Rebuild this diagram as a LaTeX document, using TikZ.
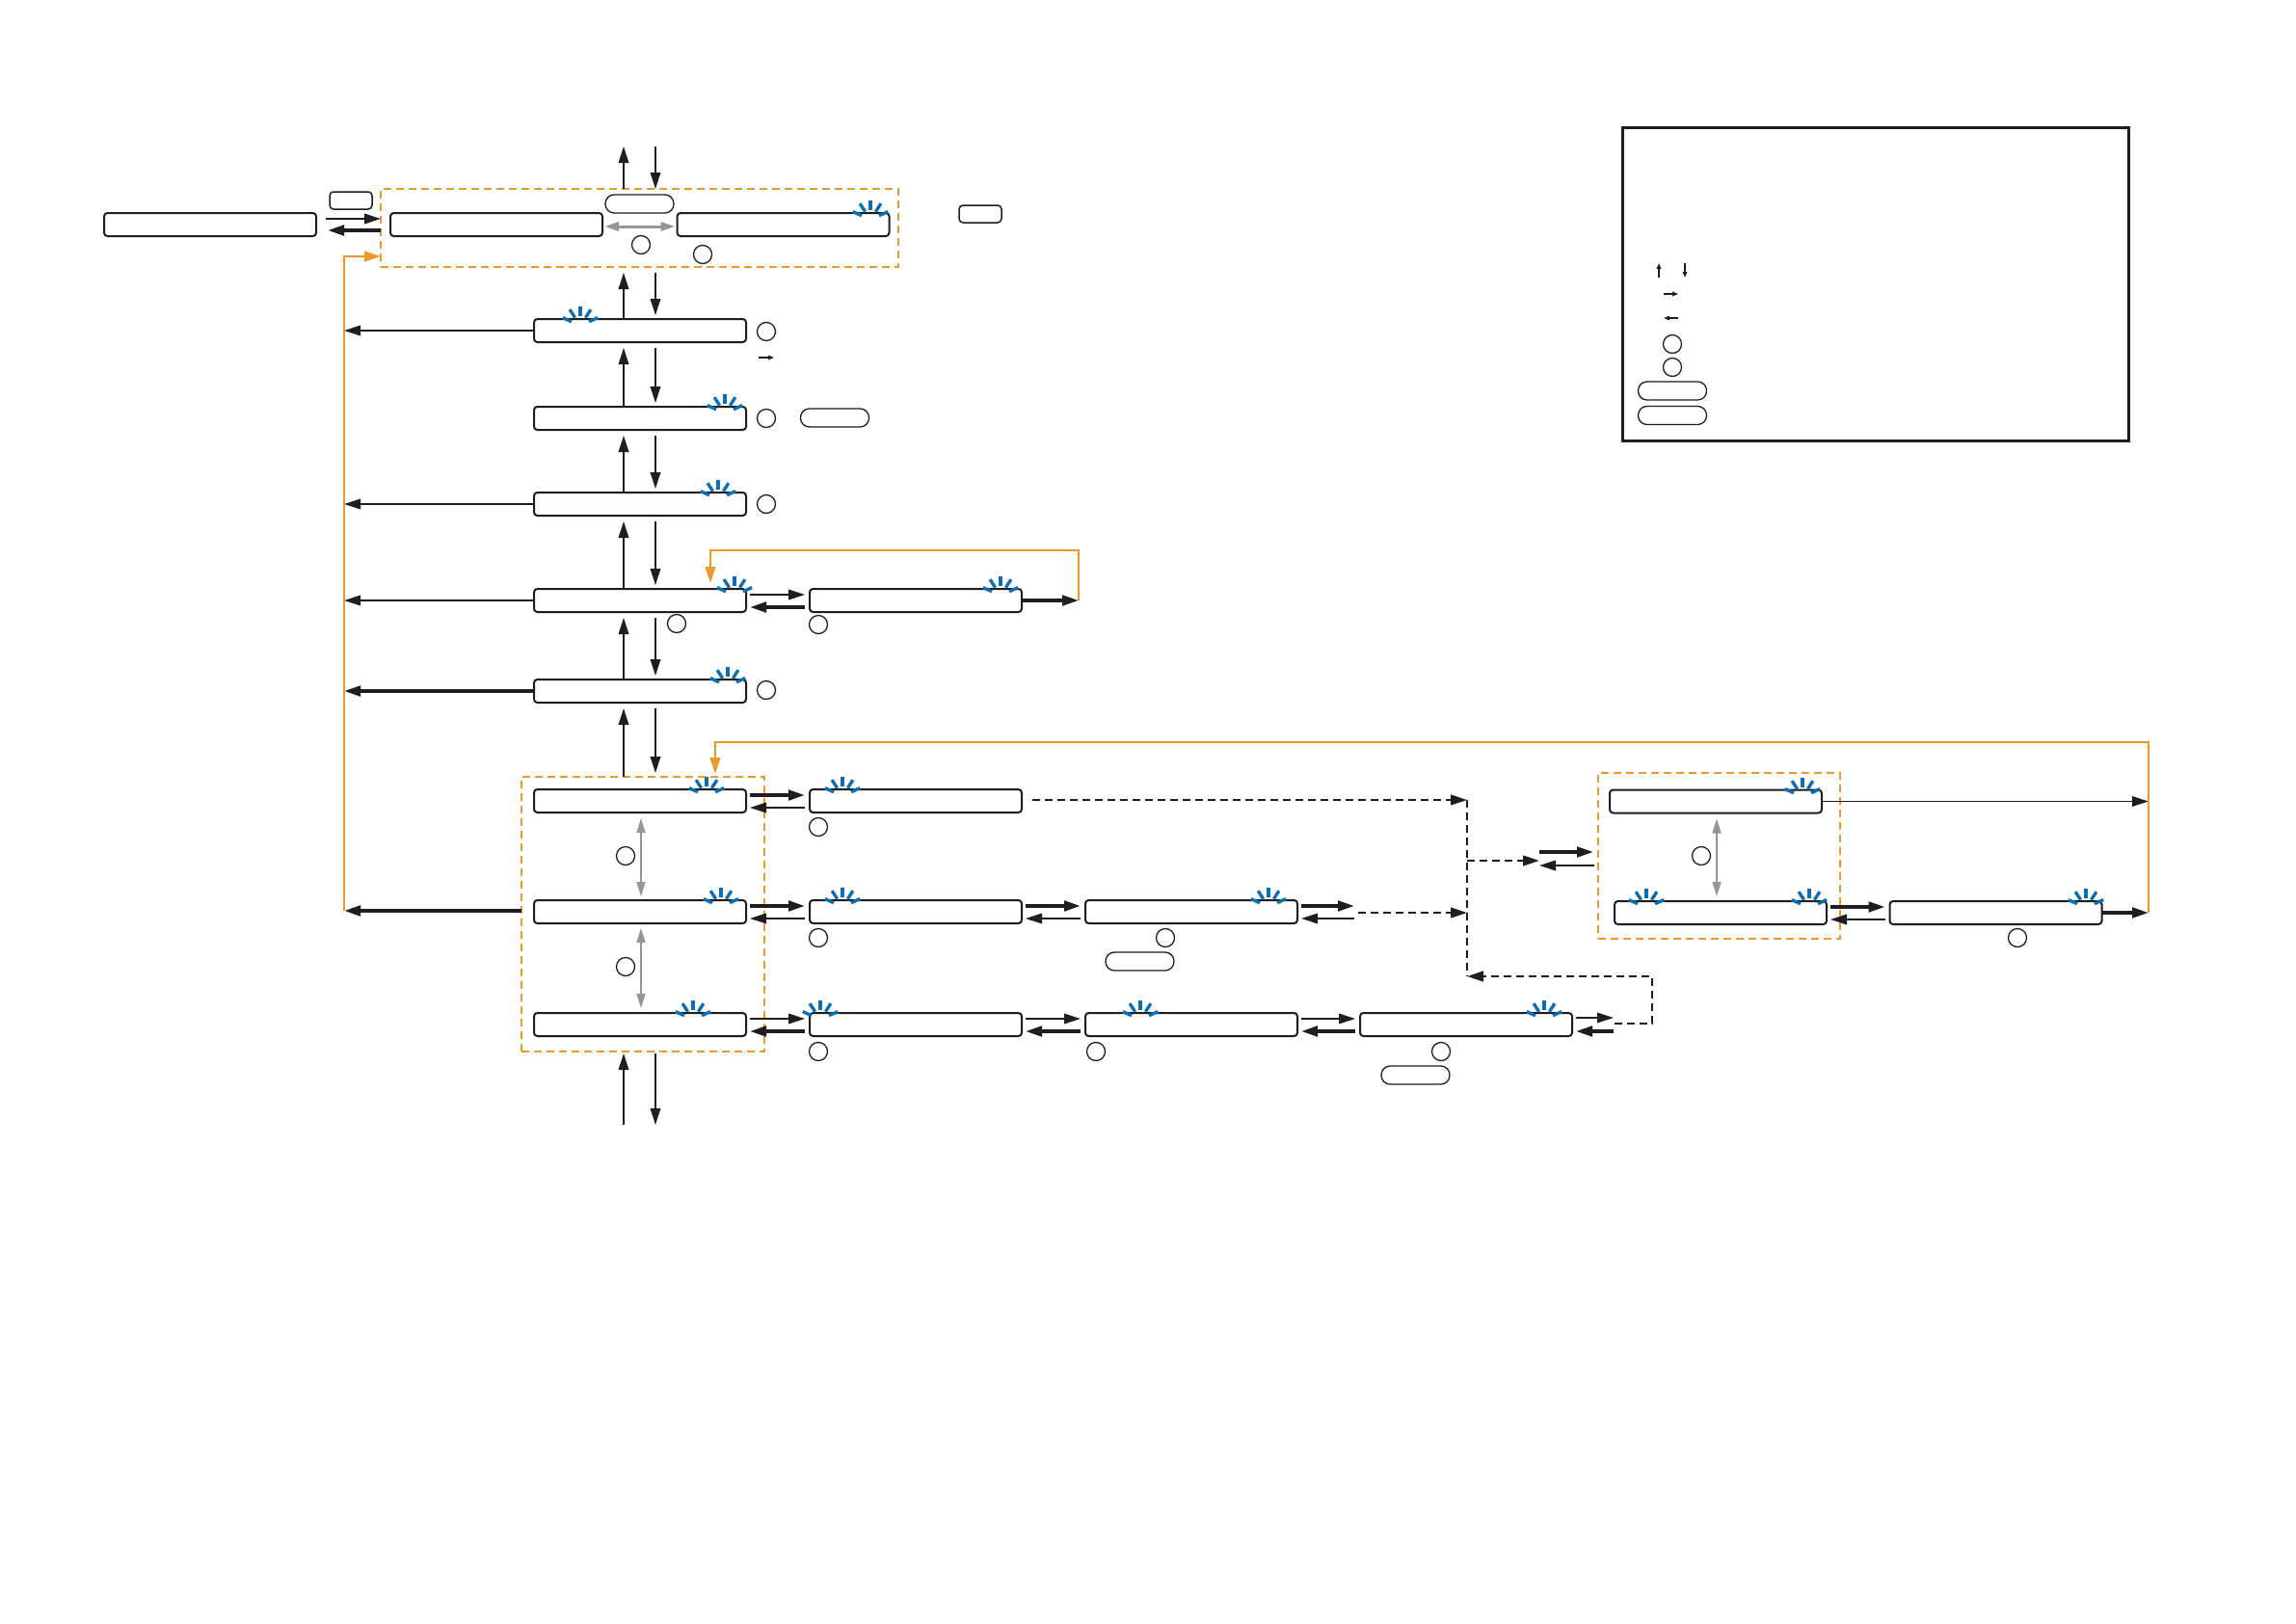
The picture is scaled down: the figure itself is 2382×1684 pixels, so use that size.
\documentclass[tikz,border=0pt]{standalone}
\usetikzlibrary{arrows.meta,calc}
\definecolor{orC}{RGB}{236,152,42}
\definecolor{blC}{RGB}{10,110,180}
\definecolor{grC}{RGB}{150,150,150}
\definecolor{lnC}{RGB}{30,30,30}
\newcommand\vpair[2]{%
  \draw[thn] (xu |- #2.north) -- ($(xu |- #1.south)+(0,6)$);
  \draw[thn] ($(xd |- #1.south)+(0,6)$) -- ($(xd |- #2.north)+(0,-4)$);}
\newcommand\hpair[4]{%
  \draw[#3] ($(#1.east)+(4,-6)$) -- ($(#2.west)+(-5,-6)$);
  \draw[#4] ($(#2.west)+(-5,7)$) -- ($(#1.east)+(4,7)$);}
\begin{document}
\begin{tikzpicture}[x=0.1mm,y=-0.1mm,
  bx/.style={draw=lnC, line width=0.2mm, rounded corners=0.35mm, minimum width=22mm, minimum height=2.4mm, inner sep=0pt, outer sep=0pt},
  circ/.style={draw=lnC, circle, line width=0.13mm, minimum size=1.9mm, inner sep=0pt},
  pill/.style={draw=lnC, line width=0.13mm, rounded corners=0.92mm, minimum width=7.1mm, minimum height=1.9mm, inner sep=0pt},
  sbox/.style={draw=lnC, line width=0.15mm, rounded corners=0.4mm, minimum width=4.4mm, minimum height=1.8mm, inner sep=0pt},
  tip/.style={-{Triangle[length=1.7mm,width=1.05mm]}},
  thn/.style={draw=lnC, line width=0.18mm, tip},
  thk/.style={draw=lnC, line width=0.34mm, tip},
  dsh/.style={draw=lnC, line width=0.25mm, dash pattern=on 0.8mm off 0.5mm},
  orln/.style={draw=orC, line width=0.25mm, -{Triangle[length=1.7mm,width=1.05mm]}},
  orbox/.style={draw=orC, line width=0.25mm, dash pattern=on 0.8mm off 0.5mm, inner sep=0pt, outer sep=0pt},
  gr/.style={draw=grC, line width=0.16mm, {Triangle[length=1.5mm,width=0.9mm]}-{Triangle[length=1.5mm,width=0.9mm]}},
  grT/.style={draw=grC, line width=0.3mm, {Triangle[length=1.5mm,width=0.9mm]}-{Triangle[length=1.5mm,width=0.9mm]}},
  lgA/.style={draw=lnC, line width=0.13mm, -{Triangle[length=0.6mm,width=0.45mm]}},
  blink/.pic={\foreach \a in {-25,-57,-90,-123,-155} \draw[blC, line width=0.33mm] (\a:10) -- (\a:20);}
]
\useasboundingbox[fill=white] (0,0) rectangle (2382,1684);

% helper coordinates
\coordinate (xu) at (647,0);
\coordinate (xd) at (680,0);
\coordinate (tU) at (647,152);
\coordinate (tD) at (680,152);
\coordinate (bU) at (647,1167);
\coordinate (bD) at (680,1167);
\coordinate (jL) at (357,945);
\coordinate (jLt) at (357,266);
\coordinate (dR) at (1119,623);
\coordinate (dRt) at (1119,571);
\coordinate (dLt) at (737,571);
\coordinate (dEnd) at (737,605);
\coordinate (bR) at (2229,947);
\coordinate (bRt) at (2229,770);
\coordinate (bLt) at (742,770);
\coordinate (bEnd) at (742,803);
\coordinate (vT) at (1522,830);
\coordinate (vM) at (1522,893);
\coordinate (vG) at (1522,947);
\coordinate (vB) at (1522,1013);
\coordinate (lpR) at (1714,1062);
\coordinate (lpT) at (1714,1013);

% orange dashed groups
\node[orbox, minimum width=53.7mm, minimum height=8.1mm] (OT) at (663.5,236.5) {};
\node[orbox, minimum width=25.2mm, minimum height=28.5mm] (OG) at (667,948.5) {};
\node[orbox, minimum width=25.1mm, minimum height=17.2mm] (OR) at (1783.5,888) {};

% legend
\node[draw=lnC, line width=0.3mm, minimum width=52.5mm, minimum height=32.5mm, inner sep=0pt] (LG) at (1945.5,294.5) {};
\coordinate (lu1) at (1721,288); \coordinate (lu2) at (1721,273);
\coordinate (ld1) at (1748,273); \coordinate (ld2) at (1748,288);
\coordinate (lr1) at (1726,305); \coordinate (lr2) at (1741,305);
\coordinate (ll1) at (1741,330); \coordinate (ll2) at (1726,330);
\draw[lgA] (lu1) -- (lu2);
\draw[lgA] (ld1) -- (ld2);
\draw[lgA] (lr1) -- (lr2);
\draw[lgA] (ll1) -- (ll2);
\node[circ] (lc1) at (1735,357) {};
\node[circ] (lc2) at (1735,381) {};
\node[pill] (lp1) at (1735,405.5) {};
\node[pill] (lp2) at (1735,431) {};

% boxes
\node[bx] (L0) at (218,233) {};
\node[bx] (T1) at (515,233) {};
\node[bx] (T2) at (812.5,233) {};
\node[bx] (A) at (664,343) {};
\node[bx] (B) at (664,434) {};
\node[bx] (C) at (664,523) {};
\node[bx] (D1) at (664,623) {};
\node[bx] (D2) at (950,623) {};
\node[bx] (E) at (664,717) {};
\node[bx] (F1) at (664,831) {};
\node[bx] (F2) at (950,831) {};
\node[bx] (G1) at (664,946) {};
\node[bx] (G2) at (950,946) {};
\node[bx] (G3) at (1236,946) {};
\node[bx] (H1) at (664,1063) {};
\node[bx] (H2) at (950,1063) {};
\node[bx] (H3) at (1236,1063) {};
\node[bx] (H4) at (1521,1063) {};
\node[bx] (R1) at (1780,831.5) {};
\node[bx] (R2) at (1785,947) {};
\node[bx] (R3) at (2070.5,947) {};

% small rects and pills
\node[sbox] (S1) at (364,208) {};
\node[sbox] (S2) at (1017,222) {};
\node[pill] (P0) at (663.5,211.5) {};
\node[pill] (PB) at (866,433.5) {};
\node[pill] (PG) at (1182.5,997.5) {};
\node[pill] (PH) at (1468.5,1115.5) {};

% circles
\node[circ] (c0a) at (665,254) {};
\node[circ] (c0b) at (729,264) {};
\node[circ] (cA) at (795,344) {};
\node[circ] (cB) at (795,434) {};
\node[circ] (cC) at (795,523) {};
\node[circ] (cD1) at (702,647) {};
\node[circ] (cD2) at (849,648) {};
\node[circ] (cE) at (795,716) {};
\node[circ] (cF2) at (849,858) {};
\node[circ] (cFG) at (649,888) {};
\node[circ] (cGH) at (649,1003) {};
\node[circ] (cG2) at (849,973) {};
\node[circ] (cG3) at (1209,973) {};
\node[circ] (cH2) at (849,1091) {};
\node[circ] (cH3) at (1137,1091) {};
\node[circ] (cH4) at (1495,1091) {};
\node[circ] (cR) at (1765,888) {};
\node[circ] (cR3) at (2093,973) {};

% blink icons
\foreach \px/\py in {903/228, 602/338, 752/429, 745/518, 762/618, 1038/618, 755/712,
  733/826, 874/826, 748/941, 874/941, 1316/941, 719/1058, 851/1058, 1183/1058, 1602/1058,
  1870/827, 1708/942, 1877/942, 2164/942}
  \pic at (\px,\py) {blink};

% row A small arrow
\coordinate (sa1) at (787,371); \coordinate (sa2) at (803,371);
\draw[lgA] (sa1) -- (sa2);

% left box <-> top group
\path ($(L0.east)+(10,-6)$) coordinate (l0a);
\path ($(L0.east)+(12,6)$) coordinate (l0b);
\draw[thn] (l0a) -- (l0a -| OT.west);
\draw[thk] (l0b -| OT.west) -- (l0b);
\draw[grT] ($(T1.east)+(2,2)$) -- ($(T2.west)+(-2,2)$);

% top arrows
\draw[thn] (xu |- OT.north) -- (tU);
\draw[thn] (tD) -- (xd |- OT.north);

% vertical pairs
\vpair{OT}{A}
\vpair{A}{B}
\vpair{B}{C}
\vpair{C}{D1}
\vpair{D1}{E}
\vpair{E}{OG}

% bottom arrows
\draw[thn] (bU) -- ($(xu |- OG.south)+(0,2)$);
\draw[thn] ($(xd |- OG.south)+(0,2)$) -- (bD);

% left arrows to orange return line
\draw[thn] (A.west) -- (A.west -| jL);
\draw[thn] (C.west) -- (C.west -| jL);
\draw[thn] (D1.west) -- (D1.west -| jL);
\draw[thk] (E.west) -- (E.west -| jL);
\draw[thk] (jL -| OG.west) -- (jL);
\draw[orln] (jL) -- (jLt) -- (jLt -| OT.west);

% horizontal pairs
\hpair{D1}{D2}{thn}{thk}
\hpair{F1}{F2}{thk}{thn}
\hpair{G1}{G2}{thk}{thn}
\hpair{H1}{H2}{thn}{thk}
\hpair{G2}{G3}{thk}{thn}
\hpair{H2}{H3}{thn}{thk}
\hpair{H3}{H4}{thn}{thk}
\hpair{R2}{R3}{thk}{thn}

% row D loop
\draw[thk] (D2.east) -- (dR);
\draw[orln] (dR) -- (dRt) -- (dLt) -- (dEnd);

% gray vertical double arrows
\draw[gr] ($(F1.south)+(1,6)$) -- ($(G1.north)+(1,-4)$);
\draw[gr] ($(G1.south)+(1,5)$) -- ($(H1.north)+(1,-5)$);
\draw[gr] ($(R1.south)+(1,6)$) -- ($(R1.south |- R2.north)+(1,-5)$);

% dashed connections
\draw[dsh, tip] ($(F2.east)+(11,-1)$) -- (vT);
\draw[dsh] (vT) -- (vB);
\draw[thk] ($(G3.east)+(4,-6)$) -- ($(G3.east)+(59,-6)$);
\draw[thn] ($(G3.east)+(59,7)$) -- ($(G3.east)+(4,7)$);
\draw[dsh, tip] ($(G3.east)+(63,1)$) -- (vG);
\draw[dsh, tip] (vM) -- ($(OR.west)+(-61,5)$);
\draw[thk] ($(OR.west)+(-61,-4)$) -- ($(OR.west)+(-5,-4)$);
\draw[thn] ($(OR.west)+(-4,10)$) -- ($(OR.west)+(-61,10)$);
\draw[thn] ($(H4.east)+(4,-7)$) -- ($(H4.east)+(43,-7)$);
\draw[thk] ($(H4.east)+(43,7)$) -- ($(H4.east)+(4,7)$);
\draw[dsh, tip] ($(H4.east)+(44,-1)$) -- (lpR) -- (lpT) -- (vB);

% right group outputs and big loop
\draw[thn] (R1.east) -- (R1.east -| bR);
\draw[thk] (R3.east) -- (bR);
\draw[orln] (bR) -- (bRt) -- (bLt) -- (bEnd);
\end{tikzpicture}
\end{document}
